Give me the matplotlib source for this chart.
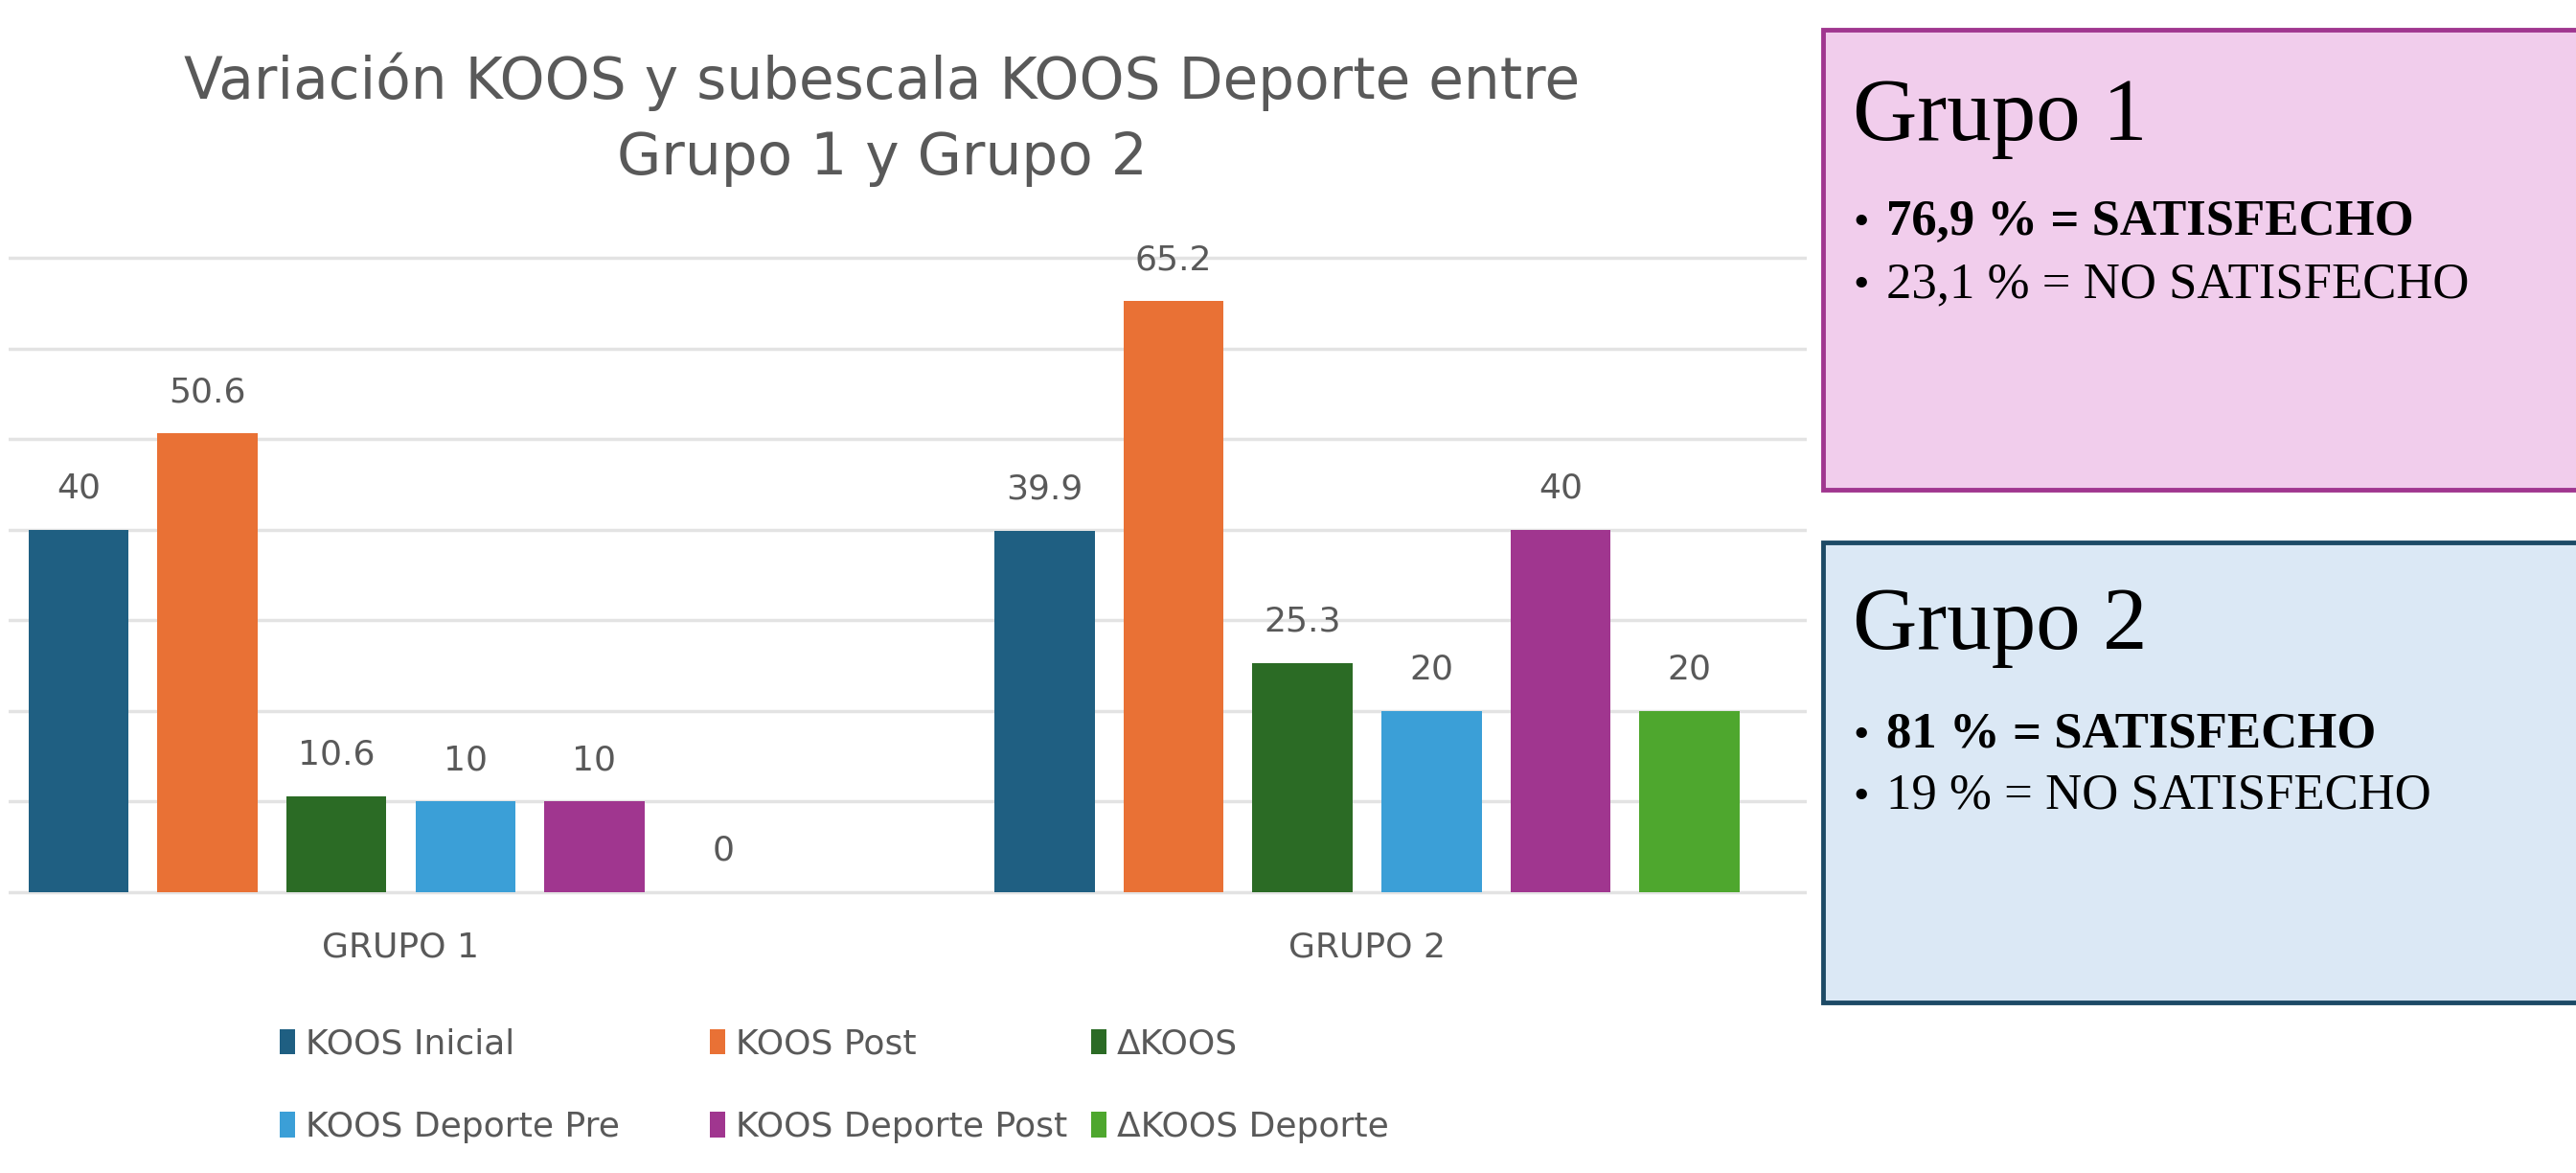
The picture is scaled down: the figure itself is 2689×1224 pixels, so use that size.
import matplotlib.pyplot as plt
from matplotlib.patches import Rectangle

# datos del gráfico
grupos = ["GRUPO 1", "GRUPO 2"]
series = ["KOOS Inicial", "KOOS Post", "ΔKOOS",
          "KOOS Deporte Pre", "KOOS Deporte Post", "ΔKOOS Deporte"]
koos_inicial = [40, 39.9]
koos_post = [50.6, 65.2]
delta_koos = [10.6, 25.3]
deporte_pre = [10, 20]
deporte_post = [10, 40]
delta_deporte = [0, 20]
colores = ["#1f5f82", "#e97135", "#2b6b25", "#3b9fd7", "#a0368f", "#4ea72e"]

grupo1_lineas = ["76,9 % = SATISFECHO", "23,1 % = NO SATISFECHO"]
grupo2_lineas = ["81 % = SATISFECHO", "19 % = NO SATISFECHO"]

W, H = 2689, 1224
GRIS = "#595959"

fig = plt.figure(figsize=(W / 100, H / 100), dpi=100)
fig.patch.set_facecolor("white")

# eje: 0 en y=931 px, 70 en y=269 px, con medio punto de margen
unit = (931 - 269) / 70
ax = fig.add_axes([9 / W, 1 - (931 + 0.5 * unit) / H,
                   (1886 - 9) / W, (662 + unit) / H])

datos = [koos_inicial, koos_post, delta_koos, deporte_pre, deporte_post, delta_deporte]
paso = 0.1335
ancho = 0.1037
handles = []
for i, (nombre, vals, c) in enumerate(zip(series, datos, colores)):
    xs = [g + (i - 2.5) * paso for g in range(len(grupos))]
    bars = ax.bar(xs, vals, width=ancho, color=c, label=nombre, zorder=3)
    handles.append(bars)
    for b, v in zip(bars, vals):
        ax.annotate(f"{v:g}", (b.get_x() + b.get_width() / 2, v),
                    xytext=(0, 24), textcoords="offset points",
                    ha="center", va="baseline", fontsize=26, color=GRIS)

ax.set_xlim(-0.406, 1.455)
ax.set_ylim(-0.5, 70.5)
ax.set_yticks(range(0, 80, 10))
ax.set_yticklabels([])
ax.yaxis.grid(True, color="#e3e3e3", lw=2.5)
ax.set_axisbelow(True)
ax.set_xticks(range(len(grupos)))
ax.set_xticklabels(grupos, fontsize=26, color=GRIS)
ax.tick_params(length=0, pad=26)
for s in ax.spines.values():
    s.set_visible(False)

fig.text(921 / W, 1 - 125 / H,
         "Variación KOOS y subescala KOOS Deporte entre\nGrupo 1 y Grupo 2",
         ha="center", va="center", fontsize=43, color=GRIS, linespacing=1.44)

# leyenda en tres columnas, como en Excel
for (a, b), x in zip([(0, 3), (1, 4), (2, 5)], [292, 741, 1139]):
    fig.legend([handles[a], handles[b]], [series[a], series[b]],
               loc="center left", bbox_to_anchor=(x / W, 1 - 1133 / H),
               frameon=False, fontsize=26, handlelength=0.45, handleheight=0.75,
               handletextpad=0.3, labelspacing=1.45, borderpad=0, borderaxespad=0,
               labelcolor=GRIS)

# cajas de texto
cajas = [
    ("Grupo 1", grupo1_lineas, 31, 511, "#f1cdec", "#a0368f", [146, 245, 310]),
    ("Grupo 2", grupo2_lineas, 566, 1046, "#dbe8f5", "#1d4a66", [677, 780, 844]),
]
for titulo, lineas, top, bottom, fondo, borde, ys in cajas:
    fig.add_artist(Rectangle((1903 / W, 1 - bottom / H), 0.3, (bottom - top) / H,
                             transform=fig.transFigure, facecolor=fondo,
                             edgecolor=borde, lw=3.5, clip_on=False))
    fig.text(1934 / W, 1 - ys[0] / H, titulo, fontsize=67,
             family="Liberation Serif", va="baseline", color="black")
    for j, (linea, y) in enumerate(zip(lineas, ys[1:])):
        fig.text(1934 / W, 1 - y / H, "•", fontsize=34,
                 family="Liberation Serif", va="baseline")
        fig.text(1969 / W, 1 - y / H, linea, fontsize=38,
                 family="Liberation Serif", va="baseline",
                 fontweight="bold" if j == 0 else "normal")

fig.savefig("out.png", dpi=100)
